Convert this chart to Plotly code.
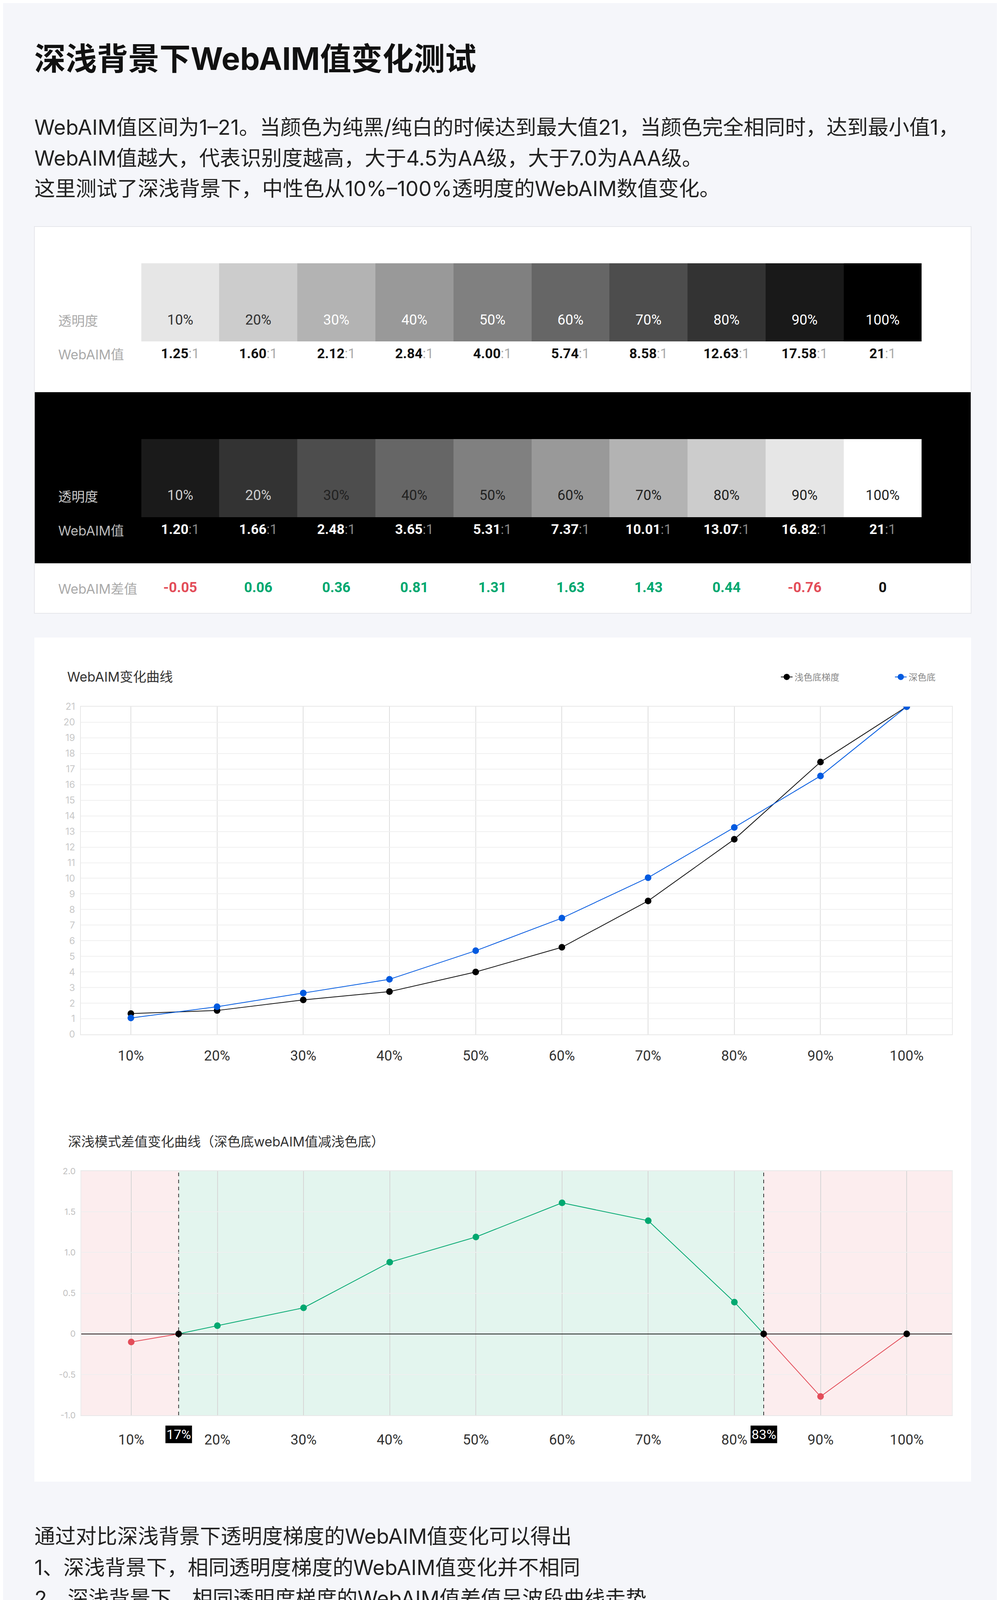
import plotly.graph_objects as go

W, H = 2560, 4672
FONT = "Inter, 'Noto Sans CJK SC', sans-serif"
NUM_FONT = "Roboto, 'Noto Sans CJK SC', sans-serif"

# ---------------- data ----------------
levels = ["10%", "20%", "30%", "40%", "50%", "60%", "70%", "80%", "90%", "100%"]
opacity = [0.1, 0.2, 0.3, 0.4, 0.5, 0.6, 0.7, 0.8, 0.9, 1.0]
light_ratio = ["1.25", "1.60", "2.12", "2.84", "4.00", "5.74", "8.58", "12.63", "17.58", "21"]
dark_ratio = ["1.20", "1.66", "2.48", "3.65", "5.31", "7.37", "10.01", "13.07", "16.82", "21"]
diff_table = [-0.05, 0.06, 0.36, 0.81, 1.31, 1.63, 1.43, 0.44, -0.76, 0]

# values as plotted on the curves
light_curve = [1.33, 1.53, 2.21, 2.74, 4.00, 5.58, 8.55, 12.50, 17.45, 21]
dark_curve = [1.05, 1.77, 2.65, 3.53, 5.36, 7.45, 10.04, 13.26, 16.56, 21]

# difference curve, incl. the two zero crossings (17% / 83%)
diff_x = [0, 0.55, 1, 2, 3, 4, 5, 6, 7, 7.34, 8, 9]
diff_y = [-0.10, 0, 0.10, 0.32, 0.88, 1.19, 1.61, 1.39, 0.39, 0, -0.77, 0]
cross_x = [0.55, 7.34]
cross_labels = ["17%", "83%"]

diff_yticks = [-1, -0.5, 0, 0.5, 1, 1.5, 2]
diff_yticktext = ["-1.0", "-0.5", "0", "0.5", "1.0", "1.5", "2.0"]

title = "深浅背景下WebAIM值变化测试"
intro = [
    "WebAIM值区间为1–21。当颜色为纯黑/纯白的时候达到最大值21，当颜色完全相同时，达到最小值1，",
    "WebAIM值越大，代表识别度越高，大于4.5为AA级，大于7.0为AAA级。",
    "这里测试了深浅背景下，中性色从10%–100%透明度的WebAIM数值变化。",
]
conclusion = [
    "通过对比深浅背景下透明度梯度的WebAIM值变化可以得出",
    "1、深浅背景下，相同透明度梯度的WebAIM值变化并不相同",
    "2、深浅背景下，相同透明度梯度的WebAIM值差值呈波段曲线走势",
]
conclusion_sub = [
    "在0%–17%的区间，深色底＜浅色底",
    "在17%–83%的区间，深色底＞浅色底，",
    "在83%–100%的区间，深色底＜浅色底",
]
summary = [
    "在深浅模式的文字（中性色）色彩转换时，可以参考图上的WebAIM走势，针对转换后的透明度进行微",
    "调，以达到对比度一致的效果。",
]

RED = "#e34d59"
GREEN = "#00a870"
BLUE = "#005ae0"


def px(x):
    return x / W


def py(y):
    return 1 - y / H


idx = list(range(len(levels)))
fig = go.Figure()

# ---------------- swatch tables ----------------
fig.add_trace(go.Heatmap(
    z=[opacity], x=idx, y=[0], zmin=0, zmax=1,
    colorscale=[[0, "#ffffff"], [1, "#000000"]], showscale=False,
    hoverinfo="skip", xaxis="x", yaxis="y",
))
fig.add_trace(go.Scatter(
    x=idx, y=[-0.24] * len(idx), mode="text", text=levels,
    textfont=dict(family=NUM_FONT, size=36,
                  color=["#333333" if a < 0.3 else "#ffffff" for a in opacity]),
    hoverinfo="skip", showlegend=False, xaxis="x", yaxis="y",
))
fig.add_trace(go.Scatter(
    x=idx, y=[-0.67] * len(idx), mode="text",
    text=[f"<b>{v}</b><span style='color:#aaaaaa'>:1</span>" for v in light_ratio],
    textfont=dict(family=NUM_FONT, size=35, color="#111111"),
    hoverinfo="skip", showlegend=False, xaxis="x", yaxis="y",
))

fig.add_trace(go.Heatmap(
    z=[opacity], x=idx, y=[0], zmin=0, zmax=1,
    colorscale=[[0, "#000000"], [1, "#ffffff"]], showscale=False,
    hoverinfo="skip", xaxis="x2", yaxis="y2",
))
fig.add_trace(go.Scatter(
    x=idx, y=[-0.235] * len(idx), mode="text", text=levels,
    textfont=dict(family=NUM_FONT, size=36,
                  color=["#cccccc" if a < 0.3 else "#222222" for a in opacity]),
    hoverinfo="skip", showlegend=False, xaxis="x2", yaxis="y2",
))
fig.add_trace(go.Scatter(
    x=idx, y=[-0.67] * len(idx), mode="text",
    text=[f"<b>{v}</b><span style='color:#888888'>:1</span>" for v in dark_ratio],
    textfont=dict(family=NUM_FONT, size=35, color="#ffffff"),
    hoverinfo="skip", showlegend=False, xaxis="x2", yaxis="y2",
))
fig.add_trace(go.Scatter(
    x=idx, y=[-1.415] * len(idx), mode="text",
    text=[f"<b>{v:g}</b>" for v in diff_table],
    textfont=dict(family=NUM_FONT, size=36,
                  color=[RED if v < 0 else GREEN if v > 0 else "#111111" for v in diff_table]),
    hoverinfo="skip", showlegend=False, xaxis="x2", yaxis="y2",
))

# ---------------- WebAIM curves ----------------
fig.add_trace(go.Scatter(
    x=idx, y=light_curve, name="浅色底梯度", mode="lines+markers",
    line=dict(color="#111111", width=2), marker=dict(color="#000000", size=17),
    xaxis="x3", yaxis="y3",
))
fig.add_trace(go.Scatter(
    x=idx, y=dark_curve, name="深色底", mode="lines+markers",
    line=dict(color=BLUE, width=2), marker=dict(color=BLUE, size=17),
    xaxis="x3", yaxis="y3",
))

# ---------------- difference curve ----------------
for i in range(len(diff_x) - 1):
    neg = diff_y[i] < 0 or diff_y[i + 1] < 0
    fig.add_trace(go.Scatter(
        x=diff_x[i:i + 2], y=diff_y[i:i + 2], mode="lines",
        line=dict(color=RED if neg else GREEN, width=2),
        hoverinfo="skip", showlegend=False, xaxis="x4", yaxis="y4",
    ))
fig.add_trace(go.Scatter(
    x=diff_x, y=diff_y, mode="markers",
    marker=dict(size=17, color=[RED if v < 0 else GREEN if v > 0 else "#000000" for v in diff_y]),
    showlegend=False, xaxis="x4", yaxis="y4",
))

# ---------------- shapes ----------------
shapes = [
    dict(type="rect", xref="paper", yref="paper", x0=px(80), x1=px(2478), y0=py(1562), y1=py(572),
         fillcolor="#ffffff", line=dict(color="#e6e7eb", width=2), layer="below"),
    dict(type="rect", xref="paper", yref="paper", x0=px(81), x1=px(2477), y0=py(1434), y1=py(996),
         fillcolor="#000000", line=dict(width=0), layer="below"),
    dict(type="rect", xref="paper", yref="paper", x0=px(80), x1=px(2478), y0=py(3785), y1=py(1624),
         fillcolor="#ffffff", line=dict(width=0), layer="below"),
]
band_edges = [-0.58] + cross_x + [9.525]
band_colors = ["#fcedee", "#e3f5ee", "#fcedee"]
for k, c in enumerate(band_colors):
    shapes.append(dict(type="rect", xref="x4", yref="y4 domain", x0=band_edges[k], x1=band_edges[k + 1],
                       y0=0, y1=1, fillcolor=c, line=dict(width=0), layer="below"))
for cx in cross_x:
    shapes.append(dict(type="line", xref="x4", yref="y4 domain", x0=cx, x1=cx, y0=0, y1=1,
                       line=dict(color="#333333", width=2, dash="dash"), layer="below"))

# ---------------- texts ----------------
ann = []


def text(x, y, s, size, color, bold=False, family=FONT):
    ann.append(dict(xref="paper", yref="paper", x=px(x), y=py(y), xanchor="left", yanchor="middle",
                    text=f"<b>{s}</b>" if bold else s, showarrow=False,
                    font=dict(family=family, size=size, color=color)))


text(78, 141, title, 80, "#111111", bold=True)
for i, s in enumerate(intro):
    text(78, 318 + i * 78.5, s, 53, "#222222")
for i, s in enumerate(conclusion):
    text(78, 3925 + i * 79.5, s, 53, "#222222")
for i, s in enumerate(conclusion_sub):
    text(168, 4164 + i * 79.5, s, 53, "#222222")
for i, s in enumerate(summary):
    text(78, 4462 + i * 78, s, 53, "#111111", bold=True)

text(139, 814, "透明度", 34, "#aaaaaa")
text(139, 900, "WebAIM值", 34, "#aaaaaa")
text(139, 1263, "透明度", 34, "#cccccc")
text(139, 1350, "WebAIM值", 34, "#bbbbbb")
text(139, 1499, "WebAIM差值", 34, "#aaaaaa")

text(162, 1725, "WebAIM变化曲线", 34, "#333333")
text(164, 2914, "深浅模式差值变化曲线（深色底webAIM值减浅色底）", 34, "#333333")

for cx, lab in zip(cross_x, cross_labels):
    ann.append(dict(xref="x4", yref="paper", x=cx, y=py(3664), xanchor="center", yanchor="middle",
                    text=lab, showarrow=False, bgcolor="#000000", borderpad=2,
                    font=dict(family=NUM_FONT, size=34, color="#ffffff")))

# ---------------- layout ----------------
hidden = dict(visible=False, fixedrange=True)
tbl_x = [px(353.5), px(2351.5)]
axis_common = dict(showline=True, mirror=True, linecolor="#e8e8e8", linewidth=2,
                   zeroline=False, ticks="", fixedrange=True)

fig.update_layout(
    width=W, height=H,
    margin=dict(l=0, r=0, t=0, b=0, autoexpand=False),
    paper_bgcolor="#f5f6fa",
    plot_bgcolor="rgba(0,0,0,0)",
    font=dict(family=FONT),
    shapes=shapes,
    annotations=ann,
    hovermode=False,
    # swatch row = one unit (200 px); text rows sit below it inside the range
    xaxis=dict(domain=tbl_x, range=[-0.5, 9.5], anchor="y", **hidden),
    yaxis=dict(domain=[py(966), py(666)], range=[-1.0, 0.5], anchor="x", **hidden),
    xaxis2=dict(domain=tbl_x, range=[-0.5, 9.5], anchor="y2", **hidden),
    yaxis2=dict(domain=[py(1536), py(1116)], range=[-1.6, 0.5], anchor="x2", **hidden),
    xaxis3=dict(domain=[px(199), px(2429)], range=[-0.58, 9.525], anchor="y3",
                tickmode="array", tickvals=idx, ticktext=levels,
                showgrid=True, gridcolor="#dedede", gridwidth=2,
                tickfont=dict(family=NUM_FONT, size=36, color="#333333"),
                ticklabelstandoff=22, **axis_common),
    yaxis3=dict(domain=[py(2640), py(1801)], range=[0, 21], anchor="x3", dtick=1, tick0=0,
                showgrid=True, gridcolor="#f0f0f0", gridwidth=2,
                tickfont=dict(size=24, color="#c8c8c8"), ticklabelstandoff=8, **axis_common),
    xaxis4=dict(domain=[px(200), px(2429)], range=[-0.58, 9.525], anchor="y4",
                tickmode="array", tickvals=idx, ticktext=levels,
                showgrid=True, gridcolor="#d6d6d6", gridwidth=2,
                tickfont=dict(family=NUM_FONT, size=36, color="#333333"),
                ticklabelstandoff=30, **axis_common),
    yaxis4=dict(domain=[py(3615), py(2990)], range=[-1, 2], anchor="x4",
                tickmode="array", tickvals=diff_yticks, ticktext=diff_yticktext,
                showgrid=True, gridcolor="#efefef", gridwidth=2,
                tickfont=dict(size=22, color="#c0c0c0"), ticklabelstandoff=8,
                showline=True, mirror=True, linecolor="#ececec", linewidth=2,
                zeroline=True, zerolinecolor="#222222", zerolinewidth=2, ticks="", fixedrange=True),
    showlegend=True,
    legend=dict(orientation="h", x=px(1986), xanchor="left", y=py(1725), yanchor="middle",
                font=dict(size=23, color="#888888"), bgcolor="rgba(0,0,0,0)",
                entrywidth=247, entrywidthmode="pixels"),
)

fig.write_html("out.html")
